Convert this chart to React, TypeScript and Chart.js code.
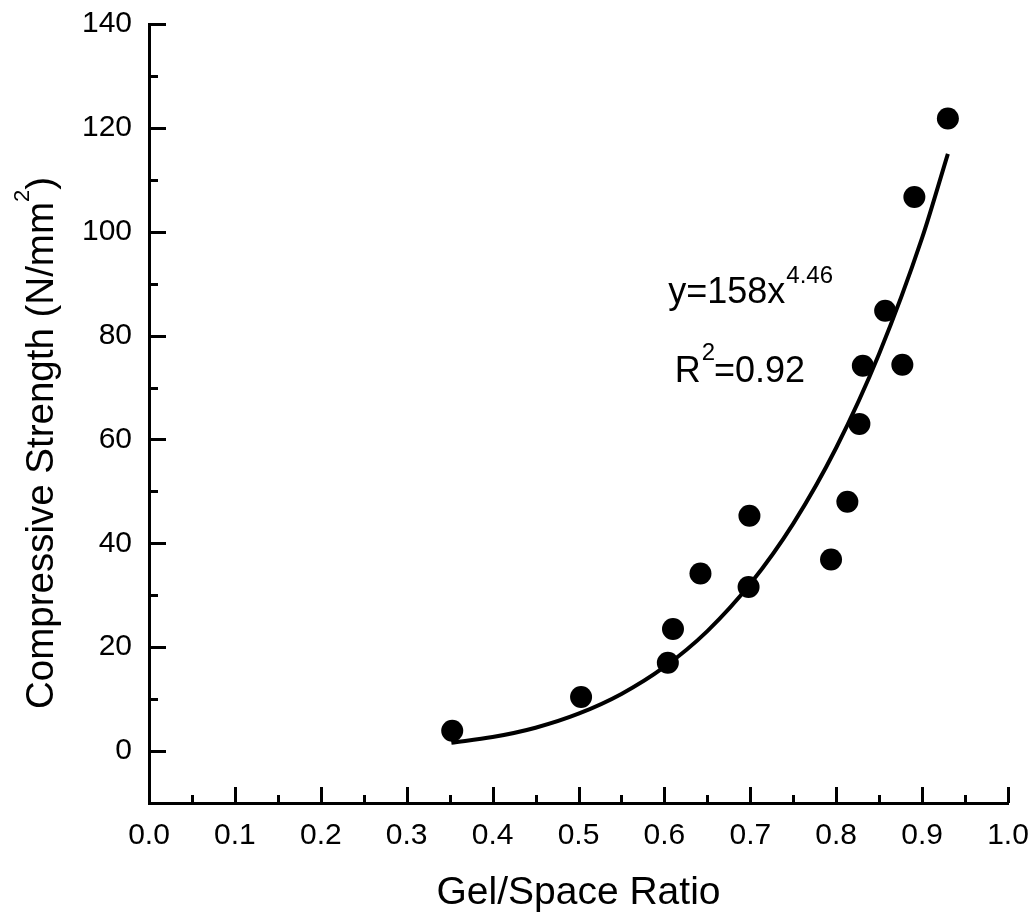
import React, { useEffect, useRef } from "react";
import { Chart, registerables } from "chart.js";

Chart.register(...registerables);

// ---- data ----
const gelSpaceRatio = [0.353, 0.503, 0.604, 0.61, 0.642, 0.698, 0.699, 0.794, 0.813, 0.827, 0.831, 0.857, 0.877, 0.891, 0.93];
const compressiveStrength = [3.9, 10.4, 17.0, 23.5, 34.2, 31.6, 45.3, 36.9, 48.0, 63.0, 74.2, 84.8, 74.4, 106.7, 121.8];

// power-law fit curve (y = 158 x^4.46)
const fitX = [0.352, 0.4, 0.45, 0.5, 0.55, 0.6, 0.65, 0.7, 0.75, 0.8, 0.85, 0.9, 0.93];
const fitY = [1.6, 2.7, 4.5, 7.2, 11.0, 16.2, 23.1, 32.2, 43.8, 58.4, 76.5, 98.8, 115.0];

const xTickValues = [0, 0.1, 0.2, 0.3, 0.4, 0.5, 0.6, 0.7, 0.8, 0.9, 1.0];
const xMinorTickValues = [0.05, 0.15, 0.25, 0.35, 0.45, 0.55, 0.65, 0.75, 0.85, 0.95];
const yTickValues = [0, 20, 40, 60, 80, 100, 120, 140];
const yMinorTickValues = [10, 30, 50, 70, 90, 110, 130];

const xTitle = "Gel/Space Ratio";
const yTitleMain = "Compressive Strength (N/mm";
const yTitleSup = "2";
const yTitleTail = ")";

const eqBase = "y=158x";
const eqExp = "4.46";
const r2Base = "R";
const r2Sup = "2";
const r2Rest = "=0.92";

const FONT = "'Liberation Sans', Arial, Helvetica, sans-serif";

const decorPlugin = {
  id: "decor",
  afterDraw(chart: any) {
    const { ctx, chartArea, scales } = chart;
    const xs = scales.x;
    const ys = scales.y;
    ctx.save();
    ctx.strokeStyle = "#000";
    ctx.lineWidth = 3;
    ctx.lineCap = "butt";
    ctx.beginPath();
    const bottom = chartArea.bottom;
    const left = chartArea.left;
    xTickValues.forEach((v) => {
      if (v <= xs.min) return;
      const p = Math.round(xs.getPixelForValue(v)) + 0.5;
      ctx.moveTo(p, bottom);
      ctx.lineTo(p, bottom - 16);
    });
    xMinorTickValues.forEach((v) => {
      const p = Math.round(xs.getPixelForValue(v)) + 0.5;
      ctx.moveTo(p, bottom);
      ctx.lineTo(p, bottom - 8);
    });
    yTickValues.forEach((v) => {
      const p = Math.round(ys.getPixelForValue(v)) + 0.5;
      ctx.moveTo(left, p);
      ctx.lineTo(left + 17, p);
    });
    yMinorTickValues.forEach((v) => {
      const p = Math.round(ys.getPixelForValue(v)) + 0.5;
      ctx.moveTo(left, p);
      ctx.lineTo(left + 9, p);
    });
    ctx.stroke();

    // y-axis title (rotated, with superscript)
    ctx.fillStyle = "#000";
    ctx.textBaseline = "alphabetic";
    ctx.textAlign = "left";
    const mainFont = `38.5px ${FONT}`;
    const supFont = `22px ${FONT}`;
    ctx.font = mainFont;
    const wMain = ctx.measureText(yTitleMain).width;
    const wTail = ctx.measureText(yTitleTail).width;
    ctx.font = supFont;
    const wSup = ctx.measureText(yTitleSup).width;
    const total = wMain + wSup + wTail;
    ctx.save();
    ctx.translate(53, 443);
    ctx.rotate(-Math.PI / 2);
    let tx = -total / 2;
    ctx.font = mainFont;
    ctx.fillText(yTitleMain, tx, 0);
    tx += wMain;
    ctx.font = supFont;
    ctx.fillText(yTitleSup, tx, -24);
    tx += wSup;
    ctx.font = mainFont;
    ctx.fillText(yTitleTail, tx, 0);
    ctx.restore();

    // fit annotations
    const annFont = `36px ${FONT}`;
    const annSup = `24px ${FONT}`;
    let ax = xs.getPixelForValue(0.6045);
    const ay = ys.getPixelForValue(86.3);
    ctx.font = annFont;
    ctx.fillText(eqBase, ax, ay);
    ax += ctx.measureText(eqBase).width;
    ctx.font = annSup;
    ctx.fillText(eqExp, ax + 1, ay - 20);

    let bx = xs.getPixelForValue(0.612);
    const by = ys.getPixelForValue(71.0);
    ctx.font = annFont;
    ctx.fillText(r2Base, bx, by);
    bx += ctx.measureText(r2Base).width;
    ctx.font = annSup;
    ctx.fillText(r2Sup, bx + 1, by - 22);
    bx += ctx.measureText(r2Sup).width;
    ctx.font = annFont;
    ctx.fillText(r2Rest, bx, by);
    ctx.restore();
  },
};

const zeroPadding = (s: any) => {
  s.paddingTop = 0;
  s.paddingBottom = 0;
  s.paddingLeft = 0;
  s.paddingRight = 0;
};

export default function App() {
  const ref = useRef<HTMLCanvasElement | null>(null);

  useEffect(() => {
    if (!ref.current) return;
    const points = gelSpaceRatio.map((x, i) => ({ x, y: compressiveStrength[i] }));
    const fit = fitX.map((x, i) => ({ x, y: fitY[i] }));
    const chart = new Chart(ref.current, {
      type: "scatter",
      data: {
        datasets: [
          {
            label: "Fit",
            type: "line",
            data: fit,
            borderColor: "#000",
            borderWidth: 4,
            pointRadius: 0,
            fill: false,
            cubicInterpolationMode: "monotone",
            showLine: true,
          } as any,
          {
            label: "Data",
            data: points,
            backgroundColor: "#000",
            borderColor: "#000",
            borderWidth: 0,
            pointRadius: 11,
            pointHoverRadius: 11,
          },
        ],
      },
      options: {
        animation: false,
        responsive: true,
        maintainAspectRatio: false,
        layout: { padding: { top: 24, right: 27, left: 0, bottom: 0 } },
        plugins: { legend: { display: false }, tooltip: { enabled: false } },
        scales: {
          x: {
            type: "linear",
            min: 0,
            max: 1,
            afterBuildTicks: (s: any) => {
              s.ticks = xTickValues.map((v) => ({ value: v }));
            },
            afterFit: (s: any) => {
              s.height = 119;
              zeroPadding(s);
            },
            grid: { display: false, drawTicks: false },
            border: { display: true, color: "#000", width: 3 },
            ticks: {
              color: "#000",
              padding: 15,
              font: { family: FONT, size: 30 },
              maxRotation: 0,
              autoSkip: false,
              callback: (v: any) => Number(v).toFixed(1),
            },
            title: {
              display: true,
              text: xTitle,
              color: "#000",
              font: { family: FONT, size: 39 },
              padding: { top: 0, bottom: 5 },
            },
          },
          y: {
            type: "linear",
            min: -10,
            max: 140,
            afterBuildTicks: (s: any) => {
              s.ticks = yTickValues.map((v) => ({ value: v }));
            },
            afterFit: (s: any) => {
              s.width = 149;
              zeroPadding(s);
            },
            grid: { display: false, drawTicks: false },
            border: { display: true, color: "#000", width: 3 },
            ticks: {
              color: "#000",
              padding: 17,
              font: { family: FONT, size: 30 },
              autoSkip: false,
              callback: (v: any) => String(v),
            },
          },
        },
      },
      plugins: [decorPlugin],
    });
    return () => chart.destroy();
  }, []);

  return (
    <div style={{ position: "absolute", left: 0, top: 0, width: 1035, height: 922, background: "#fff" }}>
      <canvas ref={ref} />
    </div>
  );
}
